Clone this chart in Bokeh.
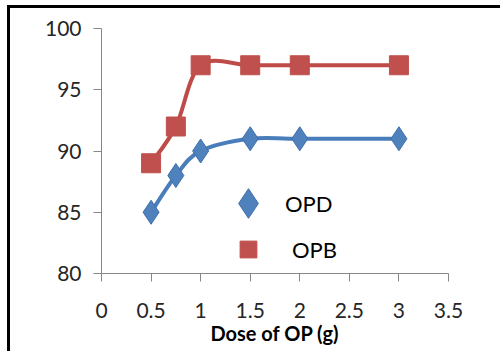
import math

from bokeh.embed import file_html
from bokeh.models import (ColumnDataSource, FixedTicker, Label, Legend,
                          LegendItem, Range1d)
from bokeh.plotting import figure
from bokeh.resources import INLINE

# Dose of OP (g) and removal efficiency (%)
dose = [0.5, 0.75, 1.0, 1.5, 2.0, 3.0]
re_opd = [85, 88, 90, 91, 91, 91]
re_opb = [89, 92, 97, 97, 97, 97]

x_ticks = [0, 0.5, 1, 1.5, 2, 2.5, 3, 3.5]
x_tick_labels = ["0", "0.5", "1", "1.5", "2", "2.5", "3", "3.5"]
y_ticks = [80, 85, 90, 95, 100]

FONT = "Lato"
BLUE, BLUE_LINE, BLUE_EDGE = "#4F81BD", "#4A7EBB", "#3F6FAA"
RED, RED_LINE = "#C0504D", "#BE4B48"


def smooth_segments(xs, ys):
    """Cubic Bezier control points for a Catmull-Rom style smoothed line."""
    n = len(xs)
    seg = dict(x0=[], y0=[], x1=[], y1=[], cx0=[], cy0=[], cx1=[], cy1=[])
    for i in range(n - 1):
        a = max(i - 1, 0)
        d = min(i + 2, n - 1)
        seg["x0"].append(xs[i])
        seg["y0"].append(ys[i])
        seg["x1"].append(xs[i + 1])
        seg["y1"].append(ys[i + 1])
        seg["cx0"].append(xs[i] + (xs[i + 1] - xs[a]) / 6)
        seg["cy0"].append(ys[i] + (ys[i + 1] - ys[a]) / 6)
        seg["cx1"].append(xs[i + 1] - (xs[d] - xs[i]) / 6)
        seg["cy1"].append(ys[i + 1] - (ys[d] - ys[i]) / 6)
    return ColumnDataSource(seg)


p = figure(
    width=493, height=346,
    x_range=Range1d(0, 3.5), y_range=Range1d(80, 100),
    output_backend="svg", toolbar_location=None,
    min_border_left=91, min_border_right=55,
    min_border_top=20, min_border_bottom=81,
    margin=(5, 0, 0, 7),
    styles={"border-top": "3px solid #000000", "border-left": "3px solid #000000"},
)
p.outline_line_color = None
p.xgrid.visible = False
p.ygrid.visible = False
p.background_fill_color = "white"
p.border_fill_color = "white"

for ax in (p.xaxis[0], p.yaxis[0]):
    ax.axis_line_color = "#868686"
    ax.major_tick_line_color = "#868686"
    ax.minor_tick_line_color = None
    ax.major_tick_in = 0
    ax.major_tick_out = 8
    ax.major_label_text_font = FONT
    ax.major_label_text_font_size = "21px"
    ax.major_label_text_color = "#262626"

p.xaxis.ticker = FixedTicker(ticks=x_ticks)
p.xaxis.major_label_overrides = {t: s for t, s in zip(x_ticks, x_tick_labels)}
p.xaxis.major_label_standoff = 21
p.xaxis.axis_label = "Dose of OP (g)"
p.xaxis.axis_label_text_font = FONT
p.xaxis.axis_label_text_font_size = "20px"
p.xaxis.axis_label_text_font_style = "bold"
p.xaxis.axis_label_text_color = "#000000"
p.xaxis.axis_label_standoff = 0

p.yaxis.ticker = FixedTicker(ticks=y_ticks)
p.yaxis.major_label_standoff = 12

# vertical axis title, placed beside the lower part of the axis
p.add_layout(Label(
    x=-61, y=103, x_units="screen", y_units="screen",
    text="RE %", angle=math.pi / 2,
    text_font=FONT, text_font_size="20px", text_font_style="bold",
    text_color="#000000", text_align="center", text_baseline="middle",
))

# smoothed lines
p.bezier("x0", "y0", "x1", "y1", "cx0", "cy0", "cx1", "cy1",
         source=smooth_segments(dose, re_opd), line_color=BLUE_LINE,
         line_width=4, line_cap="round")
p.bezier("x0", "y0", "x1", "y1", "cx0", "cy0", "cx1", "cy1",
         source=smooth_segments(dose, re_opb), line_color=RED_LINE,
         line_width=4, line_cap="round")

# markers
opd_pts = p.scatter(dose, re_opd, marker="diamond", size=24,
                    fill_color=BLUE, line_color=BLUE_EDGE, line_width=1)
opb_pts = p.scatter(dose, re_opb, marker="square", size=19,
                    fill_color=RED, line_color=RED, line_width=1)

legend_style = dict(
    orientation="vertical", padding=0, margin=0,
    label_text_font=FONT, label_text_font_size="22px",
    label_text_color="#000000",
    background_fill_alpha=0, border_line_color=None,
)
# the OPD key gets a larger glyph box so its diamond is drawn tall
p.add_layout(Legend(
    items=[LegendItem(label="OPD", renderers=[opd_pts])],
    location=(110, 27), glyph_width=74, glyph_height=86,
    label_standoff=0, **legend_style,
))
p.add_layout(Legend(
    items=[LegendItem(label="OPB", renderers=[opb_pts])],
    location=(126, 3), glyph_width=42, glyph_height=42,
    label_standoff=23, **legend_style,
))

open("out.html", "w").write(file_html(p, INLINE))
